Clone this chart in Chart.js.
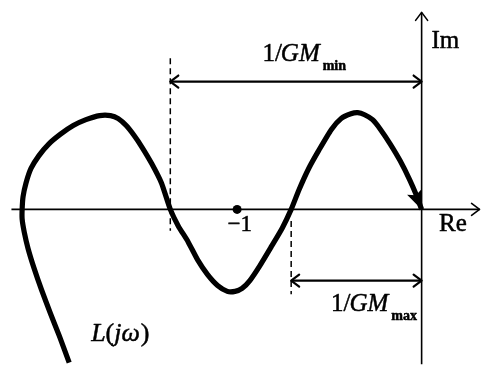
<!DOCTYPE html>
<html>
<head>
<meta charset="utf-8">
<script src="https://cdn.jsdelivr.net/npm/chart.js@4/dist/chart.umd.min.js"></script>
<style>
  html, body { margin: 0; padding: 0; background: #fff; }
  #wrap { width: 486px; height: 369px; position: relative; }
</style>
</head>
<body>
<div id="wrap"><canvas id="nyq"></canvas></div>
<script>
// Nyquist locus L(jω), listed in the direction of increasing ω
const locusRe = [-1.910, -1.963, -2.011, -2.059, -2.101, -2.133, -2.154, -2.165, -2.165, -2.160,
                 -2.144, -2.117, -2.074, -2.021, -1.957, -1.888, -1.819, -1.745, -1.686, -1.644,
                 -1.601, -1.559, -1.516, -1.463, -1.410, -1.362, -1.319, -1.266, -1.213, -1.160,
                 -1.106, -1.053, -1.011, -0.973, -0.931, -0.878, -0.814, -0.755, -0.707, -0.665,
                 -0.612, -0.559, -0.489, -0.436, -0.383, -0.346, -0.309, -0.266, -0.223, -0.170,
                 -0.117, -0.064, -0.027, 0.000];
const locusIm = [-0.835, -0.691, -0.569, -0.441, -0.319, -0.213, -0.122, -0.053, 0.000, 0.069,
                 0.144, 0.223, 0.293, 0.356, 0.410, 0.457, 0.489, 0.511, 0.511, 0.495,
                 0.457, 0.404, 0.340, 0.250, 0.144, 0.000, -0.090, -0.176, -0.277, -0.356,
                 -0.415, -0.447, -0.447, -0.431, -0.388, -0.309, -0.202, -0.101, 0.000, 0.106,
                 0.223, 0.319, 0.436, 0.495, 0.521, 0.527, 0.516, 0.489, 0.436, 0.356,
                 0.266, 0.160, 0.074, 0.000];

// critical point −1 + j0
const criticalRe = -1;
const criticalIm = 0;

// negative real-axis crossings giving the two gain margins
const crossMinRe = -1.362;   // 1/GM_min
const crossMaxRe = -0.707;   // 1/GM_max

// vertical extent of the dashed markers at each crossing
const dashMinIm = [0.824, -0.117];
const dashMaxIm = [-0.064, -0.463];

// heights of the dimension arrows
const arrowMinIm = 0.697;
const arrowMaxIm = -0.388;

// drawn extent of the Re and Im axes
const reAxisSpan = [-2.223, 0.314];
const imAxisSpan = [-0.846, 1.074];

// view window
const viewRe = [-2.2606, 0.3245];
const viewIm = [-0.8457, 1.1170];

const locus = locusRe.map((x, i) => ({ x, y: locusIm[i] }));

const SERIF = '"Liberation Serif", "Times New Roman", serif';

function chevron(ctx, x, y, ang, len, half) {
  // open arrowhead with its tip at (x, y), pointing along ang
  const c = Math.cos(ang), s = Math.sin(ang);
  ctx.beginPath();
  ctx.moveTo(x - len * c - half * s, y - len * s + half * c);
  ctx.lineTo(x, y);
  ctx.lineTo(x - len * c + half * s, y - len * s - half * c);
  ctx.stroke();
}

function text(ctx, str, x, y) {
  // slightly heavy glyphs
  ctx.fillText(str, x, y);
  ctx.strokeText(str, x, y);
}

function gmLabel(ctx, x, y, sub) {
  // "1/GM" with a small subscript
  ctx.font = '25px ' + SERIF;
  text(ctx, '1/', x, y);
  let w = ctx.measureText('1/').width;
  ctx.font = 'italic 25px ' + SERIF;
  text(ctx, 'GM', x + w - 1, y);
  w += ctx.measureText('GM').width;
  ctx.font = 'bold 14px ' + SERIF;
  text(ctx, sub, x + w + 2, y + 9);
}

const decorations = {
  id: 'decorations',
  afterDatasetsDraw(chart) {
    const { ctx, scales: { x: sx, y: sy } } = chart;
    const px = v => sx.getPixelForValue(v);
    const py = v => sy.getPixelForValue(v);
    ctx.save();
    ctx.strokeStyle = '#000';
    ctx.fillStyle = '#000';
    ctx.lineCap = 'round';
    ctx.lineJoin = 'round';

    // axis arrowheads
    ctx.lineWidth = 1.6;
    chevron(ctx, px(reAxisSpan[1]), py(0), 0, 8, 6);
    chevron(ctx, px(0), py(imAxisSpan[1]), -Math.PI / 2, 8, 6);

    // dimension arrowheads (both ends)
    ctx.lineWidth = 2.2;
    chevron(ctx, px(crossMinRe), py(arrowMinIm), Math.PI, 8, 6);
    chevron(ctx, px(0), py(arrowMinIm), 0, 8, 6);
    chevron(ctx, px(crossMaxRe), py(arrowMaxIm), Math.PI, 8, 6);
    chevron(ctx, px(0), py(arrowMaxIm), 0, 8, 6);

    // solid arrowhead at the end of the locus
    const n = locusRe.length;
    const tx = px(locusRe[n - 1]), ty = py(locusIm[n - 1]);
    const bx = px(locusRe[n - 3]), by = py(locusIm[n - 3]);
    const ang = Math.atan2(ty - by, tx - bx);
    const L = 19, H = 8;
    const c = Math.cos(ang), s = Math.sin(ang);
    ctx.beginPath();
    ctx.moveTo(tx, ty);
    ctx.lineTo(tx - L * c - H * s, ty - L * s + H * c);
    ctx.lineTo(tx - L * c * 0.8, ty - L * s * 0.8);
    ctx.lineTo(tx - L * c + H * s, ty - L * s - H * c);
    ctx.closePath();
    ctx.fill();

    // text
    ctx.textBaseline = 'alphabetic';
    ctx.textAlign = 'left';
    ctx.lineWidth = 0.5;
    ctx.font = '25px ' + SERIF;
    text(ctx, 'Im', px(0.053), py(0.878));
    text(ctx, 'Re', px(0.094), py(-0.117));
    ctx.font = '23px ' + SERIF;
    text(ctx, '\u22121', px(-1.052), py(-0.119));

    gmLabel(ctx, px(-0.863), py(0.810), 'min');
    gmLabel(ctx, px(-0.491), py(-0.555), 'max');

    // L(jω)
    let x0 = px(-1.791), y0 = py(-0.718);
    ctx.font = 'italic 26px ' + SERIF;
    text(ctx, 'L', x0, y0);
    x0 += ctx.measureText('L').width;
    ctx.font = '26px ' + SERIF;
    text(ctx, '(', x0, y0);
    x0 += ctx.measureText('(').width;
    ctx.font = 'italic 26px ' + SERIF;
    text(ctx, 'j\u03c9', x0, y0);
    x0 += ctx.measureText('j\u03c9').width + 1;
    ctx.font = '26px ' + SERIF;
    text(ctx, ')', x0, y0);

    ctx.restore();
  }
};

const plain = { pointRadius: 0, showLine: true, borderColor: '#000', fill: false };

new Chart(document.getElementById('nyq'), {
  type: 'scatter',
  data: {
    datasets: [
      { ...plain, label: 'L(jω)', data: locus, borderWidth: 5.2, tension: 0.2,
        borderCapStyle: 'butt', borderJoinStyle: 'round' },
      { label: '−1', data: [{ x: criticalRe, y: criticalIm }], pointRadius: 4.5,
        backgroundColor: '#000', borderColor: '#000', borderWidth: 0 },
      { ...plain, label: 'crossing min', borderWidth: 1.5, borderDash: [6, 4],
        data: dashMinIm.map(y => ({ x: crossMinRe, y })) },
      { ...plain, label: 'crossing max', borderWidth: 1.5, borderDash: [6, 4],
        data: dashMaxIm.map(y => ({ x: crossMaxRe, y })) },
      { ...plain, label: '1/GM min', borderWidth: 2.2,
        data: [{ x: crossMinRe, y: arrowMinIm }, { x: 0, y: arrowMinIm }] },
      { ...plain, label: '1/GM max', borderWidth: 2.2,
        data: [{ x: crossMaxRe, y: arrowMaxIm }, { x: 0, y: arrowMaxIm }] },
      { ...plain, label: 'Re axis', borderWidth: 1.6,
        data: reAxisSpan.map(x => ({ x, y: 0 })) },
      { ...plain, label: 'Im axis', borderWidth: 1.6,
        data: imAxisSpan.map(y => ({ x: 0, y })) }
    ]
  },
  options: {
    responsive: true,
    maintainAspectRatio: false,
    animation: false,
    layout: { padding: 0 },
    events: [],
    plugins: { legend: { display: false }, tooltip: { enabled: false } },
    scales: {
      x: { type: 'linear', min: viewRe[0], max: viewRe[1], display: false },
      y: { type: 'linear', min: viewIm[0], max: viewIm[1], display: false }
    }
  },
  plugins: [decorations]
});
</script>
</body>
</html>
